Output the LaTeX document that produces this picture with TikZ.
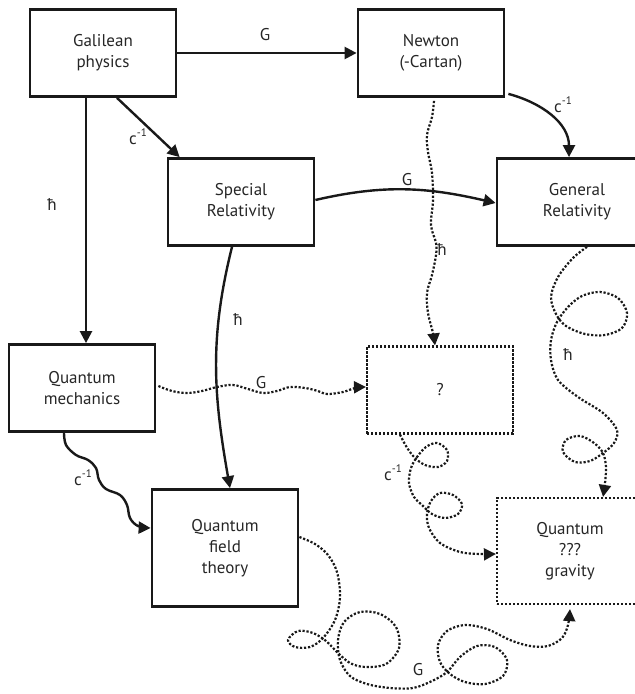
\documentclass[tikz,border=0pt]{standalone}
\usepackage{fontspec}
\setmainfont{PT Sans}
\usetikzlibrary{arrows.meta}
\begin{document}
\begin{tikzpicture}[x=0.5pt,y=-0.5pt,
  txt/.style={font=\fontsize{8.5}{10.5}\selectfont, text=black!85},
  box/.style={txt, draw=black!90, line width=1.4pt, minimum width=73pt, minimum height=43.5pt, align=center, inner sep=0pt},
  dbox/.style={box, line width=1.1pt, dash pattern=on 1.1pt off 0.9pt},
  lab/.style={txt, inner sep=0pt},
  tip/.style={-{Triangle[length=6pt,width=6pt]}},
  arr/.style={tip, line width=1.2pt, draw=black!90},
  dotp/.style={tip, line width=1.1pt, draw=black!90, dash pattern=on 1.1pt off 0.9pt},
  sup/.style={font=\fontsize{5.5}{6}\selectfont},
]
\useasboundingbox (0,0) rectangle (635,694);
\clip (0,0) rectangle (635,694);

% boxes
\node[box] (gal) at (103,53) {Galilean\\physics};
\node[box] (newton) at (431,53) {Newton\\(-Cartan)};
\node[box] (sr) at (241,202) {Special\\Relativity};
\node[box, minimum width=80pt] (gr) at (577,202) {General\\Relativity};
\node[box] (qm) at (82,388) {Quantum\\mechanics};
\node[dbox] (q) at (440,390) {?};
\node[box, minimum height=58.5pt] (qft) at (225,548) {Quantum\\field\\theory};
\node[dbox, minimum height=53pt] (qg) at (570,551) {Quantum\\???\\gravity};

% solid connectors
\draw[arr] (gal.east) -- (newton.west);
\draw[arr] ([xshift=7pt]gal.south) -- ([xshift=6.5pt]sr.north west);
\draw[arr] ([xshift=-8.5pt]gal.south) -- ([xshift=-8.5pt]gal.south |- qm.north);
\draw[arr] ([shift={(1.5pt,2pt)}]newton.south east) to[out=-15,in=90] ([xshift=-4pt]gr.north);
\draw[arr] ([yshift=1pt]sr.east) to[out=13,in=167] ([yshift=-0.5pt]gr.west);
\draw[arr] ([xshift=-4.5pt]sr.south) to[out=-104,in=100] ([xshift=2.5pt]qft.north);
\draw[arr] plot[smooth, tension=0.6] coordinates {([xshift=-9pt]qm.south) (66,445) (76,455) (88,460) (96,468) (99,480) (106,489) (120,495) (127,505) (130,518) (138,526) ([yshift=10pt]qft.west)};

% dotted connectors
\draw[dotp] plot[smooth, tension=0.6] coordinates {([shift={(1.5pt,-1.5pt)}]newton.south) (432,117) (427,135) (428,152) (432,173) (433,200) (431,225) (436,243) (436,255) (432,275) (427,293) (428,313) (433,333) ([xshift=-2.5pt]q.north)};
\draw[dotp] plot[smooth, tension=0.6] coordinates {([shift={(1pt,1pt)}]qm.east) (172,391) (187,393) (202,391) (217,387) (233,385) (248,389) (263,393) (277,391) (290,387) (305,388) (318,391) (327,394) (343,392) (355,388) ([yshift=1.5pt]q.west)};
\draw[dotp] plot[smooth, tension=0.55] coordinates {([xshift=5pt]gr.south) (573,258) (558,277) (551,297) (556,314) (566,326) (585,334) (605,335) (622,328) (627,313) (618,298) (600,292) (582,296) (568,307) (557,322) (551,340) (551,360) (558,380) (578,397) (603,413) (617,430) (614,443) (603,453) (590,461) (575,462) (563,452) (566,440) (580,436) (594,443) (603,453) (606,467) (605,483) ([xshift=16.5pt]qg.north)};
\draw[dotp] plot[smooth, tension=0.55] coordinates {([xshift=-20pt]q.south) (406,446) (414,457) (425,465) (438,467) (447,461) (447,450) (437,443) (426,447) (417,457) (411,468) (409,483) (414,497) (422,505) (432,514) (445,518) (458,514) (462,504) (453,495) (440,493) (431,501) (427,514) (429,528) (440,543) (460,552) (480,554) ([yshift=-1.5pt]qg.west)};
\draw[dotp] plot[smooth, tension=0.55] coordinates {([yshift=5.5pt]qft.east) (315,544) (328,555) (337,572) (340,597) (335,620) (323,638) (310,647) (295,647) (288,640) (298,631) (313,633) (326,641) (338,653) (350,663) (365,667) (386,664) (399,648) (396,627) (380,614) (360,612) (344,622) (338,640) (340,660) (350,676) (367,684) (390,688) (413,688) (432,681) (447,672) (460,657) (477,646) (495,647) (507,660) (503,676) (485,684) (465,682) (450,674) (440,662) (438,645) (447,631) (465,625) (487,629) (510,640) (530,646) (548,646) (562,638) (568,625) ([yshift=-2pt]qg.south)};

% labels
\node[lab] (l1) at (265,35) {G};
\node[lab] (l2) at (138,137) {c\raisebox{0.9ex}{\fontsize{5.5}{6}\selectfont -1}};
\node[lab] (l3) at (52,205) {ħ};
\node[lab] (l4) at (563,105) {c\raisebox{0.9ex}{\fontsize{5.5}{6}\selectfont -1}};
\node[lab] (l5) at (407,180) {G};
\node[lab] (l6) at (442,250) {ħ};
\node[lab] (l7) at (238,320) {ħ};
\node[lab] (l8) at (261,383) {G};
\node[lab] (l9) at (568,355) {ħ};
\node[lab] (l10) at (83,478) {c\raisebox{0.9ex}{\fontsize{5.5}{6}\selectfont -1}};
\node[lab] (l11) at (393,473) {c\raisebox{0.9ex}{\fontsize{5.5}{6}\selectfont -1}};
\node[lab] (l12) at (418,670) {G};
\end{tikzpicture}
\end{document}
